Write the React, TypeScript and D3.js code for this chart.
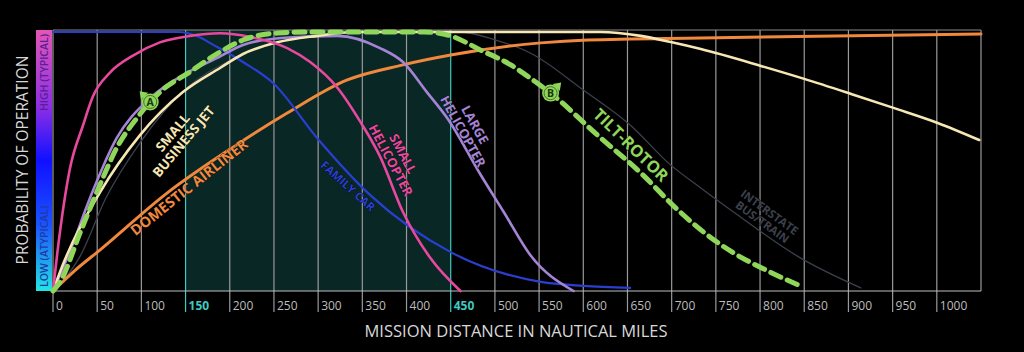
import React from "react";
import * as d3 from "d3";

// ---------- DATA ----------
const xTicks = [0, 50, 100, 150, 200, 250, 300, 350, 400, 450, 500, 550, 600, 650, 700, 750, 800, 850, 900, 950, 1000];
const highlightTicks = [150, 450];

const familyCar: [number, number][] = [
  [0, 1], [140, 1], [166, 0.98], [178, 0.957], [215, 0.884], [249, 0.803], [299, 0.59],
  [359, 0.37], [450, 0.15], [552, 0.035], [600, 0.02], [653, 0.012],
];
const smallHelicopter: [number, number][] = [
  [0, 0], [5, 0.15], [19, 0.47], [34, 0.64], [45, 0.75], [65, 0.845], [91, 0.91], [121, 0.96],
  [155, 0.985], [189, 0.995], [223, 0.981], [265, 0.938], [291, 0.884], [322, 0.784], [348, 0.652],
  [370, 0.52], [396, 0.305], [427, 0.127], [461, 0.0],
];
const largeHelicopter: [number, number][] = [
  [0, 0], [20, 0.16], [42, 0.36], [72, 0.59], [110, 0.745], [147, 0.834], [186, 0.9], [215, 0.95],
  [262, 0.978], [322, 0.985], [370, 0.938], [396, 0.884], [423, 0.768], [446, 0.668], [484, 0.448],
  [510, 0.305], [540, 0.139], [589, 0.0],
];
const smallBusinessJet: [number, number][] = [
  [0, 0], [11, 0.1], [53, 0.38], [98, 0.6], [147, 0.768], [189, 0.861], [215, 0.915], [254, 0.96],
  [299, 0.985], [340, 1], [619, 1], [665, 0.985], [699, 0.961], [733, 0.934], [801, 0.869], [850, 0.819],
  [903, 0.761], [951, 0.707], [1001, 0.649], [1048, 0.583],
];
const domesticAirliner: [number, number][] = [
  [0, 0], [25, 0.08], [53, 0.158], [129, 0.378], [204, 0.556], [265, 0.687], [333, 0.815], [396, 0.873],
  [450, 0.911], [552, 0.958], [605, 0.969], [733, 0.977], [1050, 0.992],
];
const tiltRotor: [number, number][] = [
  [0, 0], [8, 0.035], [31, 0.228], [53, 0.409], [72, 0.552], [95, 0.668], [110, 0.73], [121, 0.768],
  [155, 0.846], [189, 0.923], [215, 0.969], [254, 0.996], [285, 1], [420, 1], [450, 0.985], [484, 0.93],
  [518, 0.873], [540, 0.822], [563, 0.764], [616, 0.602], [665, 0.456], [707, 0.313], [733, 0.236],
  [770, 0.147], [809, 0.077], [846, 0.019],
];
const busTrain: [number, number][] = [
  [0, 0], [30, 0.13], [60, 0.36], [100, 0.58], [150, 0.78], [200, 0.89], [250, 0.955], [300, 0.99],
  [350, 1], [460, 1], [500, 0.97], [540, 0.919], [600, 0.776], [653, 0.641], [699, 0.486], [733, 0.398],
  [770, 0.305], [846, 0.127], [914, 0.012],
];

const series = [
  { name: "Interstate Bus/Train", data: busTrain, color: "#3b404c", width: 1.3, dash: "" },
  { name: "Domestic Airliner", data: domesticAirliner, color: "#f0883e", width: 3, dash: "" },
  { name: "Family Car", data: familyCar, color: "#2a3fd0", width: 2.2, dash: "" },
  { name: "Large Helicopter", data: largeHelicopter, color: "#a584d6", width: 2.6, dash: "" },
  { name: "Small Business Jet", data: smallBusinessJet, color: "#f6e7b4", width: 2.6, dash: "" },
  { name: "Small Helicopter", data: smallHelicopter, color: "#e8489e", width: 2.6, dash: "" },
  { name: "Tilt-Rotor", data: tiltRotor, color: "#8fd65a", width: 5, dash: "11 7" },
];

// ---------- LAYOUT ----------
const W = 1024, H = 352;
const x = d3.scaleLinear().domain([0, 1050]).range([53, 981]);
const y = d3.scaleLinear().domain([0, 1]).range([291, 32]);
const plotTop = 30, plotBottom = 291, tickBottom = 312;

const line = d3.line<[number, number]>()
  .x((d) => x(d[0]))
  .y((d) => y(d[1]))
  .curve(d3.curveMonotoneX);

const labels = [
  { lines: ["SMALL", "BUSINESS JET"], cx: 178, cy: 137, rot: -50, color: "#f6e7b4", size: 13.5 },
  { lines: ["DOMESTIC AIRLINER"], cx: 189, cy: 187, rot: -38.5, color: "#f0883e", size: 14.5 },
  { lines: ["FAMILY CAR"], cx: 348, cy: 186, rot: 42, color: "#2a3fd0", size: 11.5 },
  { lines: ["SMALL", "HELICOPTER"], cx: 397, cy: 157, rot: 62, color: "#e8489e", size: 13 },
  { lines: ["LARGE", "HELICOPTER"], cx: 469, cy: 128, rot: 61, color: "#a584d6", size: 13 },
  { lines: ["TILT-ROTOR"], cx: 631, cy: 145, rot: 44, color: "#8fd65a", size: 16.5 },
  { lines: ["INTERSTATE", "BUS/TRAIN"], cx: 766, cy: 217, rot: 36, color: "#3b404c", size: 11.5 },
];

const markers = [
  { text: "A", at: 110, val: 0.73, tri: -135 },
  { text: "B", at: 563, val: 0.764, tri: -45 },
];

export default function App() {
  const font = "'Open Sans', 'Noto Sans', sans-serif";
  return (
    <svg width={W} height={H} style={{ position: "absolute", left: 0, top: 0, background: "#000" }}>
      <defs>
        <linearGradient id="ybar" x1="0" y1="0" x2="0" y2="1">
          <stop offset="0" stopColor="#e456b4" />
          <stop offset="0.3" stopColor="#8a2ee6" />
          <stop offset="0.5" stopColor="#1010ff" />
          <stop offset="0.75" stopColor="#1a55ff" />
          <stop offset="1" stopColor="#22e6e0" />
        </linearGradient>
      </defs>
      <rect x={0} y={0} width={W} height={H} fill="#000" />
      {/* highlighted band */}
      <rect x={x(150)} y={plotTop} width={x(450) - x(150)} height={plotBottom - plotTop} fill="#082725" />
      {/* grid */}
      {xTicks.map((t) => (
        <line key={t} x1={x(t)} x2={x(t)} y1={plotTop} y2={tickBottom}
          stroke={highlightTicks.includes(t) ? "#3fc9c0" : "#9a9a9a"} strokeWidth={1.2} />
      ))}
      <line x1={x(1050)} x2={x(1050)} y1={plotTop} y2={plotBottom} stroke="#9a9a9a" strokeWidth={1.2} />
      <line x1={x(0)} x2={x(1050)} y1={plotTop} y2={plotTop} stroke="#8a8a8a" strokeWidth={1.2} />
      <line x1={x(0)} x2={x(1050)} y1={plotBottom} y2={plotBottom} stroke="#bdbdbd" strokeWidth={1.2} />
      {/* tick labels */}
      {xTicks.map((t) => (
        <text key={t} x={x(t) + 3} y={310} fontSize={12} fontFamily={font}
          fill={highlightTicks.includes(t) ? "#3fc9c0" : "#bdbdbd"}
          fontWeight={highlightTicks.includes(t) ? 700 : 400}>{t}</text>
      ))}
      {/* y gradient bar */}
      <rect x={36} y={plotTop} width={16} height={plotBottom - plotTop} fill="url(#ybar)" />
      <text transform={`translate(48,${plotTop + 4}) rotate(-90)`} textAnchor="end" fontSize={10.5}
        fontFamily={font} fill="#5a1e96" fontWeight={600}>HIGH (TYPICAL)</text>
      <text transform={`translate(48,${plotBottom - 4}) rotate(-90)`} textAnchor="start" fontSize={10.5}
        fontFamily={font} fill="#1f3aa8" fontWeight={600}>LOW (ATYPICAL)</text>
      <text transform={`translate(28,160) rotate(-90)`} textAnchor="middle" fontSize={15.5}
        fontFamily={font} fill="#d8d8d8">PROBABILITY OF OPERATION</text>
      <text x={516} y={337} textAnchor="middle" fontSize={16.5} fontFamily={font} fill="#d8d8d8">
        MISSION DISTANCE IN NAUTICAL MILES
      </text>
      {/* curves */}
      {series.map((s) => (
        <path key={s.name} d={line(s.data) || ""} fill="none" stroke={s.color} strokeWidth={s.width}
          strokeDasharray={s.dash || undefined} strokeLinecap="round" strokeLinejoin="round" />
      ))}
      {/* markers */}
      {markers.map((m) => {
        const cx = x(m.at), cy = y(m.val);
        return (
          <g key={m.text} transform={`translate(${cx},${cy})`}>
            <g transform={`rotate(${m.tri + 90})`}>
              <path d="M0,-15 L-5,-8 L5,-8 Z" fill="#8fd65a" />
            </g>
            <circle r={8.5} fill="#8fd65a" />
            <circle r={6.5} fill="none" stroke="#2f5a1c" strokeWidth={0.8} />
            <text y={3.8} textAnchor="middle" fontSize={10.5} fontWeight={700} fontFamily={font} fill="#1b3510">{m.text}</text>
          </g>
        );
      })}
      {/* labels */}
      {labels.map((l, i) => (
        <g key={i} transform={`translate(${l.cx},${l.cy}) rotate(${l.rot})`}>
          {l.lines.map((t, j) => (
            <text key={j} x={0} y={(j - (l.lines.length - 1) / 2) * l.size * 1.05 + l.size * 0.36}
              textAnchor="middle" fontSize={l.size} fontWeight={700} fontFamily={font}
              fill={l.color} stroke="#000" strokeWidth={0.6} paintOrder="stroke">{t}</text>
          ))}
        </g>
      ))}
    </svg>
  );
}
